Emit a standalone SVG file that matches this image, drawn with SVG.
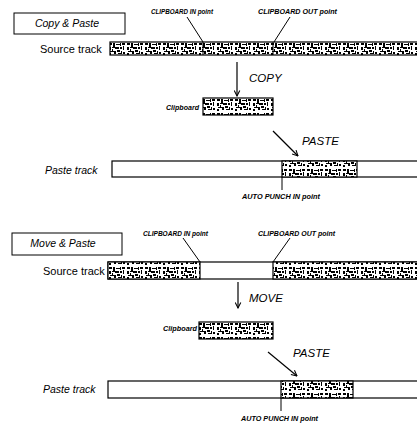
<svg xmlns="http://www.w3.org/2000/svg" width="417" height="429" viewBox="0 0 417 429">
<style>
text{font-family:"Liberation Sans",Arial,sans-serif;fill:#000}
.title{font-size:10.5px;font-style:italic}
.lbl{font-size:11px}
.ilbl{font-size:10.5px;font-style:italic}
.pt{font-size:6.3px;font-weight:bold;font-style:italic}
.op{font-size:11.5px;font-style:italic}
.box{fill:#fff;stroke:#000;stroke-width:1}
.trk{fill:#fff;stroke:#000;stroke-width:1.2}
.hat{fill:url(#hatch);stroke:#000;stroke-width:1.2}
.ln{stroke:#000;stroke-width:1;fill:none}
.arr{stroke:#000;stroke-width:1.2;fill:none;marker-end:url(#ah)}
</style>
<defs>
<pattern id="hatch" patternUnits="userSpaceOnUse" width="18" height="14">
<rect width="18" height="14" fill="#fff"/>
<g fill="#000">
<rect x="1" y="1" width="3" height="2"/><rect x="5" y="1" width="2" height="4"/><rect x="8" y="2" width="4" height="1"/><rect x="12" y="1" width="1" height="3"/><rect x="14" y="1" width="3" height="2"/>
<rect x="1" y="5" width="2" height="3"/><rect x="4" y="5" width="3" height="1"/><rect x="4" y="7" width="1" height="2"/><rect x="7" y="5" width="4" height="2"/><rect x="12" y="5" width="2" height="2"/><rect x="15" y="4" width="1" height="4"/>
<rect x="2" y="9" width="4" height="1"/><rect x="1" y="11" width="2" height="2"/><rect x="6" y="9" width="2" height="3"/><rect x="9" y="8" width="3" height="2"/><rect x="10" y="11" width="3" height="1"/><rect x="13" y="9" width="1" height="3"/><rect x="15" y="10" width="2" height="2"/>
</g>
</pattern>
<marker id="ah" viewBox="0 0 10 10" refX="9" refY="5" markerWidth="7" markerHeight="7" markerUnits="userSpaceOnUse" orient="auto">
<path d="M1,1 L9,5 L1,9" fill="none" stroke="#000" stroke-width="1.5"/>
</marker>
</defs>

<!-- Copy & Paste section -->
<g id="title-copy"><rect class="box" x="14" y="13" width="111" height="21"/><text class="title" x="67" y="27" text-anchor="middle">Copy &amp; Paste</text></g>
<g id="lbl-in-1"><text class="pt" x="151" y="14" textLength="62" lengthAdjust="spacingAndGlyphs">CLIPBOARD IN point</text></g>
<g id="lbl-out-1"><text class="pt" x="258" y="14" textLength="79" lengthAdjust="spacingAndGlyphs">CLIPBOARD OUT point</text></g>
<g id="source-1">
<text class="lbl" x="40" y="53">Source track</text>
<rect class="hat" x="110" y="42" width="310" height="13"/>
<line class="ln" x1="203" y1="42" x2="203" y2="55"/>
<line class="ln" x1="273" y1="42" x2="273" y2="55"/>
</g>
<g id="clip-1"><text class="pt" x="166" y="110" textLength="33" lengthAdjust="spacingAndGlyphs">Clipboard</text><rect class="hat" x="203" y="98" width="70" height="17"/></g>
<g id="op-copy"><text class="op" x="249" y="82">COPY</text></g>
<g id="op-paste-1"><text class="op" x="302" y="145">PASTE</text></g>
<g id="paste-1">
<text class="ilbl" x="45" y="174">Paste track</text>
<rect class="trk" x="112" y="161" width="308" height="16"/>
<rect class="hat" x="282" y="161" width="75" height="16"/>
</g>
<g id="lbl-auto-1"><text class="pt" x="242" y="199" textLength="78" lengthAdjust="spacingAndGlyphs">AUTO PUNCH IN point</text></g>

<!-- Move & Paste section -->
<g id="title-move"><rect class="box" x="12" y="233" width="110" height="22"/><text class="title" x="63" y="247" text-anchor="middle">Move &amp; Paste</text></g>
<g id="lbl-in-2"><text class="pt" x="143" y="236" textLength="65" lengthAdjust="spacingAndGlyphs">CLIPBOARD IN point</text></g>
<g id="lbl-out-2"><text class="pt" x="258" y="236" textLength="77" lengthAdjust="spacingAndGlyphs">CLIPBOARD OUT point</text></g>
<g id="source-2">
<text class="lbl" x="43" y="275">Source track</text>
<rect class="trk" x="108" y="262" width="312" height="17"/>
<rect class="hat" x="108" y="262" width="92" height="17"/>
<rect class="hat" x="273" y="262" width="147" height="17"/>
</g>
<g id="clip-2"><text class="pt" x="163" y="331" textLength="34" lengthAdjust="spacingAndGlyphs">Clipboard</text><rect class="hat" x="199" y="322" width="74" height="17"/></g>
<g id="op-move"><text class="op" x="249" y="302">MOVE</text></g>
<g id="op-paste-2"><text class="op" x="293" y="357">PASTE</text></g>
<g id="paste-2">
<text class="ilbl" x="43" y="393">Paste track</text>
<rect class="trk" x="108" y="381" width="312" height="17"/>
<rect class="hat" x="281" y="381" width="72" height="17"/>
</g>
<g id="lbl-auto-2"><text class="pt" x="241" y="421" textLength="77" lengthAdjust="spacingAndGlyphs">AUTO PUNCH IN point</text></g>

<g id="connectors">
<line class="ln" x1="187" y1="17" x2="203" y2="42"/>
<line class="ln" x1="290" y1="17" x2="274" y2="42"/>
<line class="arr" x1="237" y1="62" x2="237" y2="96"/>
<line class="arr" x1="273" y1="131" x2="298" y2="156"/>
<line class="ln" x1="282" y1="177" x2="282" y2="190"/>
<line class="ln" x1="183" y1="238" x2="200" y2="262"/>
<line class="ln" x1="290" y1="238" x2="273" y2="262"/>
<line class="arr" x1="238" y1="282" x2="238" y2="308"/>
<line class="arr" x1="268" y1="352" x2="297" y2="376"/>
<line class="ln" x1="281" y1="398" x2="281" y2="411"/>
</g>
</svg>
